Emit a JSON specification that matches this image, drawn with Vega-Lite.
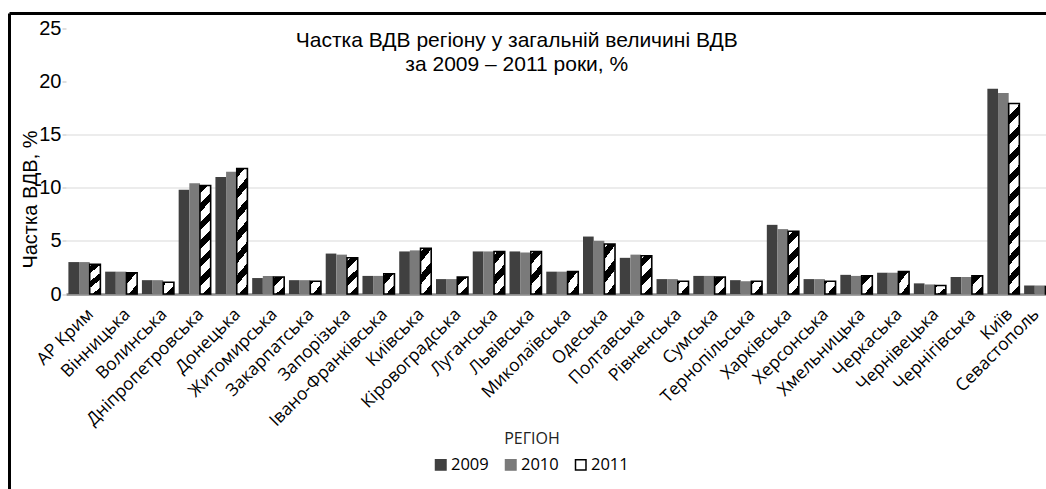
{
  "$schema": "https://vega.github.io/schema/vega-lite/v6.json",
  "width": 1036.5,
  "height": 475.5,
  "autosize": {"type": "none"},
  "padding": {"left": 9.5, "top": 13.5, "right": 0, "bottom": 0},
  "background": "white",
  "config": {
    "view": {"stroke": "#000", "strokeWidth": 3, "strokeDash": [1036.5, 1512, 475.5, 0]}
  },
  "title": {
    "text": ["Частка ВДВ регіону у загальній величині ВДВ", "за 2009 – 2011 роки, %"],
    "font": "Liberation Sans", "fontSize": 21, "fontWeight": "normal", "color": "#000",
    "anchor": "middle", "frame": "group", "offset": -61, "dx": -11, "lineHeight": 24
  },
  "data": {
    "values": [
      {"region": "АР Крим", "year": "2009", "value": 3.0}, {"region": "АР Крим", "year": "2010", "value": 3.0}, {"region": "АР Крим", "year": "2011", "value": 2.8},
      {"region": "Вінницька", "year": "2009", "value": 2.1}, {"region": "Вінницька", "year": "2010", "value": 2.1}, {"region": "Вінницька", "year": "2011", "value": 2.0},
      {"region": "Волинська", "year": "2009", "value": 1.3}, {"region": "Волинська", "year": "2010", "value": 1.3}, {"region": "Волинська", "year": "2011", "value": 1.1},
      {"region": "Дніпропетровська", "year": "2009", "value": 9.8}, {"region": "Дніпропетровська", "year": "2010", "value": 10.4}, {"region": "Дніпропетровська", "year": "2011", "value": 10.2},
      {"region": "Донецька", "year": "2009", "value": 11.0}, {"region": "Донецька", "year": "2010", "value": 11.5}, {"region": "Донецька", "year": "2011", "value": 11.8},
      {"region": "Житомирська", "year": "2009", "value": 1.5}, {"region": "Житомирська", "year": "2010", "value": 1.7}, {"region": "Житомирська", "year": "2011", "value": 1.6},
      {"region": "Закарпатська", "year": "2009", "value": 1.3}, {"region": "Закарпатська", "year": "2010", "value": 1.3}, {"region": "Закарпатська", "year": "2011", "value": 1.2},
      {"region": "Запорізька", "year": "2009", "value": 3.8}, {"region": "Запорізька", "year": "2010", "value": 3.7}, {"region": "Запорізька", "year": "2011", "value": 3.4},
      {"region": "Івано-Франківська", "year": "2009", "value": 1.7}, {"region": "Івано-Франківська", "year": "2010", "value": 1.7}, {"region": "Івано-Франківська", "year": "2011", "value": 1.9},
      {"region": "Київська", "year": "2009", "value": 4.0}, {"region": "Київська", "year": "2010", "value": 4.1}, {"region": "Київська", "year": "2011", "value": 4.3},
      {"region": "Кіровоградська", "year": "2009", "value": 1.4}, {"region": "Кіровоградська", "year": "2010", "value": 1.4}, {"region": "Кіровоградська", "year": "2011", "value": 1.6},
      {"region": "Луганська", "year": "2009", "value": 4.0}, {"region": "Луганська", "year": "2010", "value": 4.0}, {"region": "Луганська", "year": "2011", "value": 4.0},
      {"region": "Львівська", "year": "2009", "value": 4.0}, {"region": "Львівська", "year": "2010", "value": 3.9}, {"region": "Львівська", "year": "2011", "value": 4.0},
      {"region": "Миколаївська", "year": "2009", "value": 2.1}, {"region": "Миколаївська", "year": "2010", "value": 2.1}, {"region": "Миколаївська", "year": "2011", "value": 2.1},
      {"region": "Одеська", "year": "2009", "value": 5.4}, {"region": "Одеська", "year": "2010", "value": 5.0}, {"region": "Одеська", "year": "2011", "value": 4.7},
      {"region": "Полтавська", "year": "2009", "value": 3.4}, {"region": "Полтавська", "year": "2010", "value": 3.7}, {"region": "Полтавська", "year": "2011", "value": 3.6},
      {"region": "Рівненська", "year": "2009", "value": 1.4}, {"region": "Рівненська", "year": "2010", "value": 1.4}, {"region": "Рівненська", "year": "2011", "value": 1.2},
      {"region": "Сумська", "year": "2009", "value": 1.7}, {"region": "Сумська", "year": "2010", "value": 1.7}, {"region": "Сумська", "year": "2011", "value": 1.6},
      {"region": "Тернопільська", "year": "2009", "value": 1.3}, {"region": "Тернопільська", "year": "2010", "value": 1.2}, {"region": "Тернопільська", "year": "2011", "value": 1.2},
      {"region": "Харківська", "year": "2009", "value": 6.5}, {"region": "Харківська", "year": "2010", "value": 6.1}, {"region": "Харківська", "year": "2011", "value": 5.9},
      {"region": "Херсонська", "year": "2009", "value": 1.4}, {"region": "Херсонська", "year": "2010", "value": 1.4}, {"region": "Херсонська", "year": "2011", "value": 1.2},
      {"region": "Хмельницька", "year": "2009", "value": 1.8}, {"region": "Хмельницька", "year": "2010", "value": 1.7}, {"region": "Хмельницька", "year": "2011", "value": 1.7},
      {"region": "Черкаська", "year": "2009", "value": 2.0}, {"region": "Черкаська", "year": "2010", "value": 2.0}, {"region": "Черкаська", "year": "2011", "value": 2.1},
      {"region": "Чернівецька", "year": "2009", "value": 1.0}, {"region": "Чернівецька", "year": "2010", "value": 0.9}, {"region": "Чернівецька", "year": "2011", "value": 0.8},
      {"region": "Чернігівська", "year": "2009", "value": 1.6}, {"region": "Чернігівська", "year": "2010", "value": 1.6}, {"region": "Чернігівська", "year": "2011", "value": 1.7},
      {"region": "Київ", "year": "2009", "value": 19.3}, {"region": "Київ", "year": "2010", "value": 18.9}, {"region": "Київ", "year": "2011", "value": 17.9},
      {"region": "Севастополь", "year": "2009", "value": 0.8}, {"region": "Севастополь", "year": "2010", "value": 0.8}, {"region": "Севастополь", "year": "2011", "value": 0.7}
    ]
  },
  "mark": {"type": "bar"},
  "encoding": {
    "x": {
      "field": "region", "type": "nominal", "sort": null,
      "scale": {"range": [56.5, 1049], "paddingInner": 0.13, "paddingOuter": 0.065},
      "axis": {
        "title": "РЕГІОН", "titleFont": "Open Sans", "titleFontSize": 16, "titleFontWeight": "normal", "titleColor": "#222",
        "titleX": 522, "titleY": 144, "titleBaseline": "middle", "titleAlign": "center",
        "offset": -195, "labelAngle": -45, "labelFont": "Open Sans", "labelFontSize": 17.5, "labelColor": "#000",
        "labelPadding": 11, "labelDx": -4,
        "labelOffset": {"condition": {"test": "datum.value === 'Севастополь'", "value": -10}, "value": 0},
        "ticks": false, "domainColor": "#8c8c8c", "domainWidth": 2.5,
        "labelOverlap": false, "labelBound": false, "grid": false
      }
    },
    "xOffset": {"field": "year", "type": "nominal", "scale": {"paddingInner": 0, "paddingOuter": 0}},
    "y": {
      "field": "value", "type": "quantitative",
      "scale": {"domain": [0, 25], "range": [280.5, 14.5], "nice": false},
      "axis": {
        "title": "Частка ВДВ, %", "titleFont": "Liberation Sans", "titleFontSize": 20, "titleFontWeight": "normal", "titleColor": "#000",
        "titleX": -36, "titleY": 185.5, "titleAngle": -90, "titleBaseline": "middle", "titleAlign": "center",
        "offset": -56.5, "values": [0, 5, 10, 15, 20, 25],
        "labelFont": "Liberation Sans", "labelFontSize": 20, "labelColor": "#000", "labelPadding": 1,
        "tickSize": 4, "tickColor": "#bfbfbf", "domain": false,
        "gridColor": "#e6e6e6", "gridWidth": 1.5,
        "gridOpacity": {"condition": {"test": "datum.value >= 20", "value": 0}, "value": 1}
      }
    },
    "fill": {
      "field": "year", "type": "nominal",
      "scale": {"domain": ["2009", "2010", "2011"], "range": ["#404040", "#7a7a7a", "#ffffff"]},
      "legend": {
        "orient": "none", "legendX": 423, "legendY": 443, "direction": "horizontal", "title": null,
        "symbolType": "square", "symbolSize": 110, "symbolStrokeWidth": 1.5,
        "labelFont": "Open Sans", "labelFontSize": 16.5, "labelColor": "#000", "columnPadding": 13, "labelOffset": 2
      },
      "condition": [
        {"test": "datum.year === '2011' && datum.value < 1.45", "value": {"gradient": "linear", "x1": 1, "y1": 1, "x2": 0.013, "y2": -0.012, "stops": [
          {"offset": 0, "color": "#000"}, {"offset": 0.38, "color": "#000"}, {"offset": 0.38, "color": "#fff"}, {"offset": 0.844, "color": "#fff"}, {"offset": 0.844, "color": "#000"}, {"offset": 1, "color": "#000"}]}},
        {"test": "datum.year === '2011' && datum.value < 2.5", "value": {"gradient": "linear", "x1": 1, "y1": 1, "x2": 0.279, "y2": -0.172, "stops": [
          {"offset": 0, "color": "#000"}, {"offset": 0.293, "color": "#000"}, {"offset": 0.293, "color": "#fff"}, {"offset": 0.651, "color": "#fff"}, {"offset": 0.651, "color": "#000"}, {"offset": 0.945, "color": "#000"}, {"offset": 0.945, "color": "#fff"}, {"offset": 1, "color": "#fff"}]}},
        {"test": "datum.year === '2011' && datum.value < 5.3", "value": {"gradient": "linear", "x1": 1, "y1": 1, "x2": 0.661, "y2": -0.189, "stops": [
          {"offset": 0, "color": "#000"}, {"offset": 0.171, "color": "#000"}, {"offset": 0.171, "color": "#fff"}, {"offset": 0.38, "color": "#fff"}, {"offset": 0.38, "color": "#000"}, {"offset": 0.55, "color": "#000"}, {"offset": 0.55, "color": "#fff"}, {"offset": 0.759, "color": "#fff"}, {"offset": 0.759, "color": "#000"}, {"offset": 0.93, "color": "#000"}, {"offset": 0.93, "color": "#fff"}, {"offset": 1, "color": "#fff"}]}},
        {"test": "datum.year === '2011' && datum.value < 8", "value": {"gradient": "linear", "x1": 1, "y1": 1, "x2": 0.787, "y2": -0.146, "stops": [
          {"offset": 0, "color": "#000"}, {"offset": 0.12, "color": "#000"}, {"offset": 0.12, "color": "#fff"}, {"offset": 0.268, "color": "#fff"}, {"offset": 0.268, "color": "#000"}, {"offset": 0.388, "color": "#000"}, {"offset": 0.388, "color": "#fff"}, {"offset": 0.535, "color": "#fff"}, {"offset": 0.535, "color": "#000"}, {"offset": 0.656, "color": "#000"}, {"offset": 0.656, "color": "#fff"}, {"offset": 0.803, "color": "#fff"}, {"offset": 0.803, "color": "#000"}, {"offset": 0.924, "color": "#000"}, {"offset": 0.924, "color": "#fff"}, {"offset": 1, "color": "#fff"}]}},
        {"test": "datum.year === '2011' && datum.value < 14", "value": {"gradient": "linear", "x1": 1, "y1": 1, "x2": 0.891, "y2": -0.089, "stops": [
          {"offset": 0, "color": "#000"}, {"offset": 0.07, "color": "#000"}, {"offset": 0.07, "color": "#fff"}, {"offset": 0.155, "color": "#fff"}, {"offset": 0.155, "color": "#000"}, {"offset": 0.225, "color": "#000"}, {"offset": 0.225, "color": "#fff"}, {"offset": 0.311, "color": "#fff"}, {"offset": 0.311, "color": "#000"}, {"offset": 0.381, "color": "#000"}, {"offset": 0.381, "color": "#fff"}, {"offset": 0.466, "color": "#fff"}, {"offset": 0.466, "color": "#000"}, {"offset": 0.536, "color": "#000"}, {"offset": 0.536, "color": "#fff"}, {"offset": 0.622, "color": "#fff"}, {"offset": 0.622, "color": "#000"}, {"offset": 0.692, "color": "#000"}, {"offset": 0.692, "color": "#fff"}, {"offset": 0.777, "color": "#fff"}, {"offset": 0.777, "color": "#000"}, {"offset": 0.847, "color": "#000"}, {"offset": 0.847, "color": "#fff"}, {"offset": 0.932, "color": "#fff"}, {"offset": 0.932, "color": "#000"}, {"offset": 1, "color": "#000"}]}},
        {"test": "datum.year === '2011'", "value": {"gradient": "linear", "x1": 1, "y1": 1, "x2": 0.935, "y2": -0.058, "stops": [
          {"offset": 0, "color": "#000"}, {"offset": 0.045, "color": "#000"}, {"offset": 0.045, "color": "#fff"}, {"offset": 0.099, "color": "#fff"}, {"offset": 0.099, "color": "#000"}, {"offset": 0.144, "color": "#000"}, {"offset": 0.144, "color": "#fff"}, {"offset": 0.198, "color": "#fff"}, {"offset": 0.198, "color": "#000"}, {"offset": 0.243, "color": "#000"}, {"offset": 0.243, "color": "#fff"}, {"offset": 0.297, "color": "#fff"}, {"offset": 0.297, "color": "#000"}, {"offset": 0.342, "color": "#000"}, {"offset": 0.342, "color": "#fff"}, {"offset": 0.397, "color": "#fff"}, {"offset": 0.397, "color": "#000"}, {"offset": 0.441, "color": "#000"}, {"offset": 0.441, "color": "#fff"}, {"offset": 0.496, "color": "#fff"}, {"offset": 0.496, "color": "#000"}, {"offset": 0.54, "color": "#000"}, {"offset": 0.54, "color": "#fff"}, {"offset": 0.595, "color": "#fff"}, {"offset": 0.595, "color": "#000"}, {"offset": 0.64, "color": "#000"}, {"offset": 0.64, "color": "#fff"}, {"offset": 0.694, "color": "#fff"}, {"offset": 0.694, "color": "#000"}, {"offset": 0.739, "color": "#000"}, {"offset": 0.739, "color": "#fff"}, {"offset": 0.793, "color": "#fff"}, {"offset": 0.793, "color": "#000"}, {"offset": 0.838, "color": "#000"}, {"offset": 0.838, "color": "#fff"}, {"offset": 0.892, "color": "#fff"}, {"offset": 0.892, "color": "#000"}, {"offset": 0.937, "color": "#000"}, {"offset": 0.937, "color": "#fff"}, {"offset": 0.992, "color": "#fff"}, {"offset": 0.992, "color": "#000"}, {"offset": 1, "color": "#000"}]}}
      ]
    },
    "stroke": {
      "field": "year", "type": "nominal",
      "scale": {"domain": ["2009", "2010", "2011"], "range": ["#404040", "#7a7a7a", "#000000"]}
    },
    "strokeWidth": {"condition": {"test": "datum.year === '2011'", "value": 1.6}, "value": 0}
  }
}
